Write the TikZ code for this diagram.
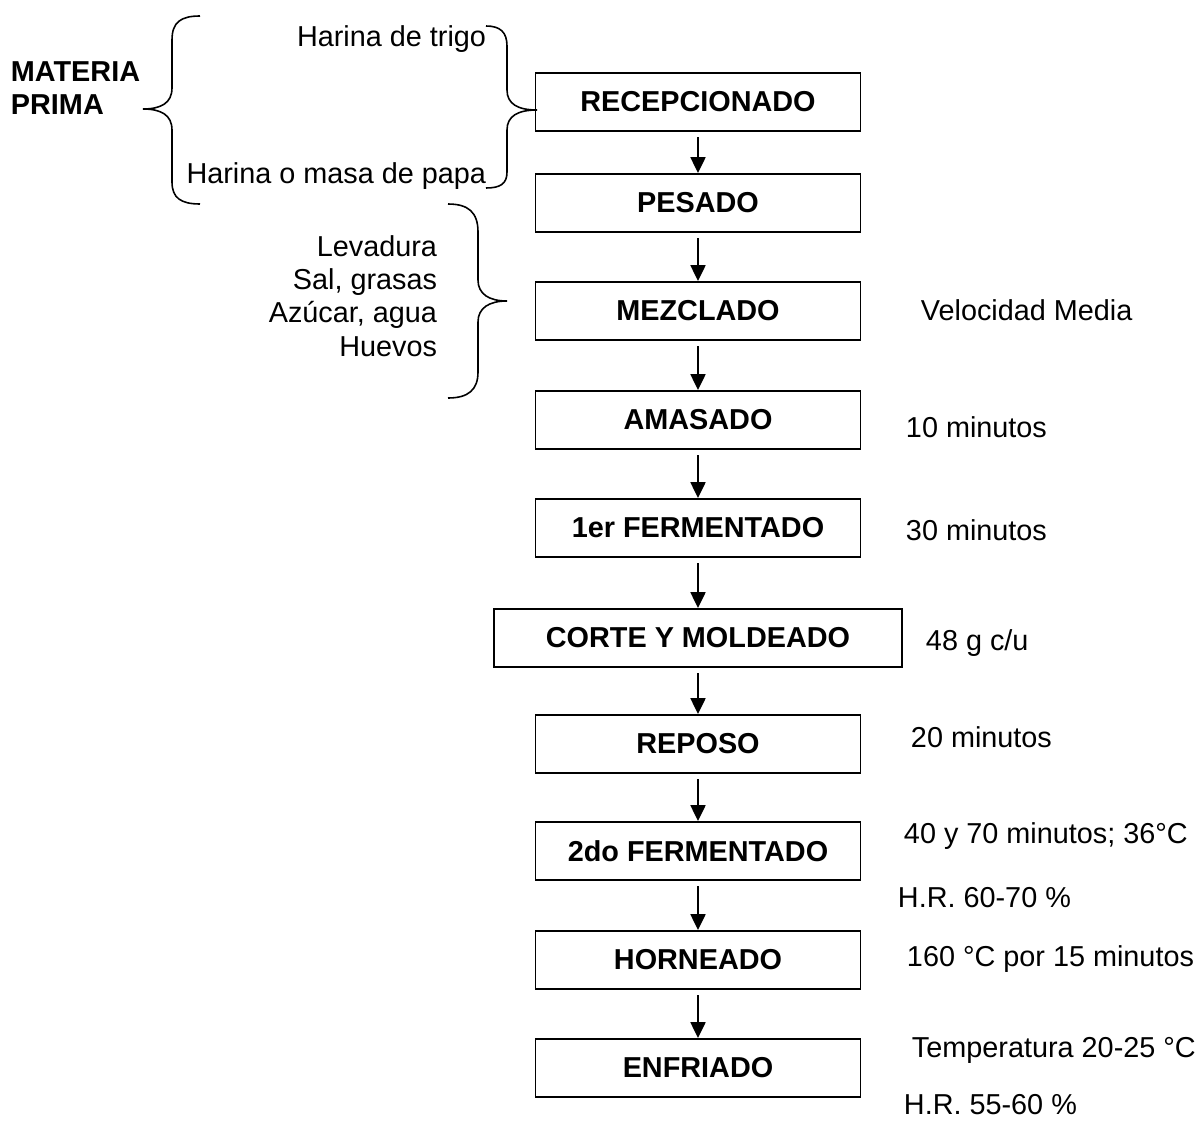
\documentclass[tikz,border=0pt]{standalone}
\usepackage{fontspec}
\setmainfont{Liberation Sans}
\usetikzlibrary{arrows.meta}

\begin{document}
\begin{tikzpicture}[x=0.02cm, y=-0.02cm, line width=1.1pt,
  font=\fontsize{16.4}{19}\selectfont,
  stepbox/.style={shape=rectangle,draw=black,minimum width=325*0.02cm,minimum height=58*0.02cm,font=\fontsize{16.4}{19}\selectfont\bfseries},
  note/.style={anchor=west,inner sep=0pt},
  flow/.style={-{Triangle[length=9pt,width=8.5pt]},shorten <=3pt}]
\useasboundingbox (0,0) rectangle (1202,1122);
% process boxes
\node[stepbox] (recep) at (698,102) {RECEPCIONADO};
\node[stepbox] (pesado) at (698,203) {PESADO};
\node[stepbox] (mezcla) at (698,311) {MEZCLADO};
\node[stepbox] (amasado) at (698,420) {AMASADO};
\node[stepbox] (ferm1) at (698,528) {1er FERMENTADO};
\node[stepbox,minimum width=408*0.02cm] (corte) at (698,638) {CORTE Y MOLDEADO};
\node[stepbox] (reposo) at (698,744) {REPOSO};
\node[stepbox] (ferm2) at (698,851) {2do FERMENTADO};
\node[stepbox] (horno) at (698,960) {HORNEADO};
\node[stepbox] (enfriado) at (698,1068) {ENFRIADO};
\draw[flow] (recep) -- (pesado);
\draw[flow] (pesado) -- (mezcla);
\draw[flow] (mezcla) -- (amasado);
\draw[flow] (amasado) -- (ferm1);
\draw[flow] (ferm1) -- (corte);
\draw[flow] (corte) -- (reposo);
\draw[flow] (reposo) -- (ferm2);
\draw[flow] (ferm2) -- (horno);
\draw[flow] (horno) -- (enfriado);
% conditions
\node[note] (vel) at (920,310) {Velocidad Media};
\node[note] (t1) at (905,427) {10 minutos};
\node[note] (t2) at (905,530) {30 minutos};
\node[note] (peso) at (925,643) {48 g c/u};
\node[note] (t3) at (910,737) {20 minutos};
\node[note] (t4) at (903,836) {40 y 70 minutos; 36°C};
\node[note] (hr1) at (897,898) {H.R. 60-70 \%};
\node[note] (t5) at (906,959) {160 °C por 15 minutos};
\node[note] (temp) at (911,1050) {Temperatura 20-25 °C};
\node[note] (hr2) at (903,1105) {H.R. 55-60 \%};
% raw materials
\node[inner sep=0pt,anchor=west,align=left,font=\fontsize{16.4}{19}\selectfont\bfseries] (mp) at (10,88) {MATERIA\\PRIMA};
\node[inner sep=0pt,anchor=east] (trigo) at (487,39) {Harina de trigo};
\node[inner sep=0pt,anchor=east] (papa) at (487,176) {Harina o masa de papa};
\node[inner sep=0pt,anchor=east,align=right] (ingr) at (438,296) {Levadura\\Sal, grasas\\Azúcar, agua\\Huevos};
% braces
\draw[line width=0.9pt] (200,16) .. controls (181,16) and (172,22) .. (172,40) -- (172,88)
  .. controls (172,103) and (161,109) .. (143,109) .. controls (161,109) and (172,115) .. (172,130)
  -- (172,182) .. controls (172,198) and (181,204) .. (200,204);
\draw[line width=0.9pt] (486,26) .. controls (500,26) and (507,32) .. (507,46) -- (507,90)
  .. controls (507,104) and (518,110) .. (537,110) .. controls (518,110) and (507,116) .. (507,130)
  -- (507,172) .. controls (507,184) and (500,188) .. (486,188);
\draw[line width=0.9pt] (448,204) .. controls (468,204) and (478,212) .. (478,232) -- (478,280)
  .. controls (478,294) and (489,301) .. (507,301) .. controls (489,301) and (478,308) .. (478,322)
  -- (478,372) .. controls (478,390) and (468,398) .. (448,398);
\end{tikzpicture}
\end{document}
